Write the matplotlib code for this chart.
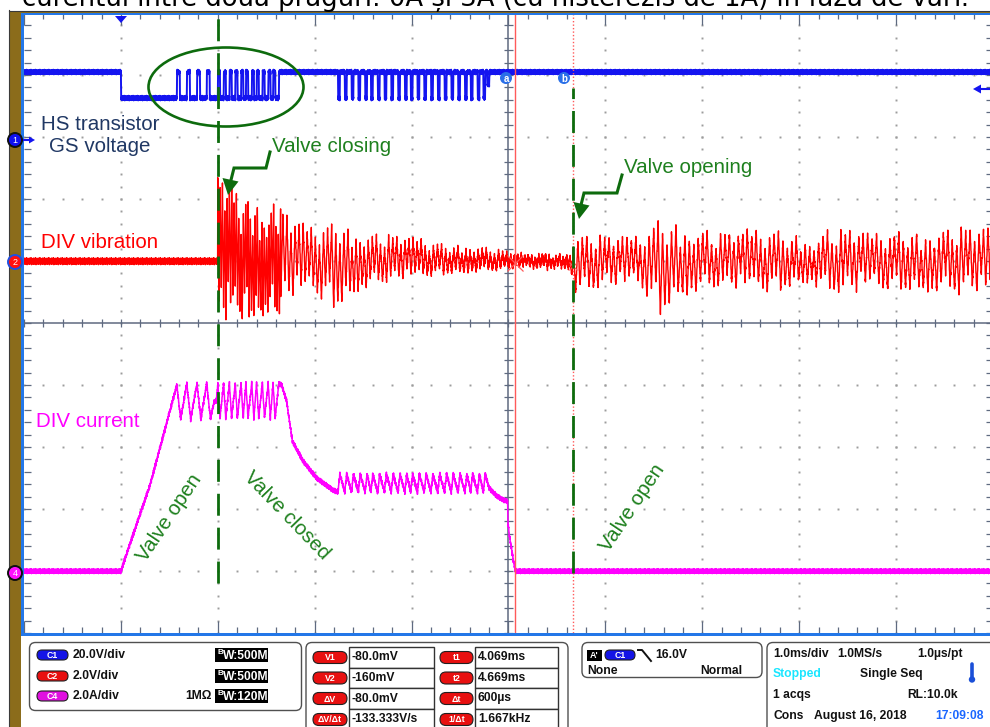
import numpy as np
import matplotlib
matplotlib.use("Agg")
import matplotlib.pyplot as plt
from matplotlib.patches import Ellipse, FancyBboxPatch, Rectangle, Circle, Polygon
from matplotlib.collections import LineCollection

W, H = 990, 727

# ---------------- acquisition settings ----------------
TIME_RANGE = (-1.0, 9.0)           # ms  (1.0 ms/div, 10 divisions)
DIVS = 5                           # +/- vertical divisions
C1_SCALE, C1_OFFSET = 20.0, 3.0    # V/div, position in div
C2_SCALE, C2_OFFSET = 2.0, 1.0     # V/div
C4_SCALE, C4_OFFSET = 2.0, -4.0    # A/div
CURSOR_T = [4.069, 4.669]          # ms
CURSOR_V = [-0.080, -0.160]        # V (on C2)
VALVE_CLOSING_T = 1.0              # ms
VALVE_OPENING_T = 4.665            # ms

# ---------------- C1: HS transistor gate-source voltage ----------------
gs_high, gs_low = 21.0, 12.6                 # V
gs_turn_on = 0.0                             # ms
gs_peak_off = [0.577, 0.68, 0.785, 0.885]    # short off pulses in the peak phase
gs_dense_off = [1.00, 1.06, 1.12, 1.18, 1.24, 1.29, 1.35, 1.40, 1.46, 1.52, 1.57, 1.63]
gs_hold_on = [2.24, 2.31, 2.38, 2.45, 2.52, 2.58, 2.65, 2.72, 2.79, 2.86, 2.93, 2.99,
              3.06, 3.13, 3.20, 3.27, 3.34, 3.41, 3.48, 3.55, 3.61, 3.68, 3.74]

# ---------------- C4: DIV current ----------------
cur_ramp_t = [0.0, 0.124, 0.30, 0.577]
cur_ramp_a = [0.0, 1.16, 2.77, 6.0]
cur_peak_hi, cur_peak_lo = 6.05, 4.9         # A
cur_gap_t = [0.96, 0.985]
cur_gap_a = [5.45, 5.5]
cur_decay_t = [1.66, 1.71, 1.77, 1.88, 2.02, 2.19]
cur_decay_a = [6.0, 5.48, 4.19, 3.55, 3.0, 2.61]
cur_hold_hi, cur_hold_lo = 3.13, 2.55        # A
cur_off_t = [3.80, 3.88, 3.95, 3.99, 3.995, 4.01, 4.03, 4.05, 4.07, 4.08]
cur_off_a = [2.68, 2.42, 2.29, 2.26, 1.55, 1.13, 0.74, 0.35, 0.03, 0.0]

# ---------------- C2: DIV vibration (envelope of the oscillation) ----------------
vib_t = [1.00, 1.07, 1.18, 1.33, 1.54, 1.59, 1.74, 1.95, 2.21, 2.46, 2.88, 3.11, 3.39,
         3.60, 3.91, 4.06, 4.64, 4.67, 4.75, 4.94, 5.35, 5.56, 5.76, 6.18, 6.69, 7.10,
         7.31, 7.62, 8.13, 8.65, 9.00]
vib_up = [2.58, 2.58, 2.26, 2.00, 1.61, 1.87, 1.35, 1.03, 1.19, 0.84, 0.71, 0.65, 0.42,
          0.45, 0.26, 0.19, 0.19, 0.84, 0.80, 0.77, 0.77, 1.35, 1.13, 0.84, 1.03, 0.65,
          0.97, 0.90, 0.90, 1.03, 1.03]
vib_dn = [1.87, 1.94, 1.87, 1.77, 1.68, 1.94, 1.16, 0.97, 1.45, 0.90, 0.55, 0.48, 0.35,
          0.32, 0.26, 0.19, 0.19, 0.90, 1.29, 0.84, 0.77, 1.77, 1.16, 0.84, 1.00, 0.65,
          1.06, 0.97, 0.90, 1.06, 1.06]
vib_segments = [(1.00, 1.65, 0.012), (1.65, 4.06, 0.021), (4.06, 4.67, 0.018), (4.67, 9.0, 0.023)]
vib_swing = [1.0, 0.66, 0.88, 0.40, 0.95, 0.74, 0.60, 0.92, 0.80, 0.35, 0.90, 0.68, 0.98,
             0.58, 0.78, 0.42, 0.94, 0.70, 0.62, 0.86, 0.38, 0.97, 0.72, 0.57, 0.84, 0.45, 0.93]

# trace fuzz (display noise) texture
FUZZ = np.array([0.1, -0.6, 0.35, -0.2, 0.8, -0.9, 0.05, 0.45, -0.35, 0.6, -0.75, 0.2,
                 -0.05, 0.9, -0.5, 0.3, -1.0, 0.55, -0.25, 0.7, -0.45, 0.15, -0.8])

BROWN = '#8b6c1b'
FRAME_BLUE = '#2377e8'
GRID_GRAY = '#9c9c9c'
AXIS_GRAY = '#5f6a80'
GREEN_LINE = '#0d6b0d'
GREEN_TEXT = '#1e801e'
C1_COLOR = '#1414f0'
C2_COLOR = '#ff0000'
C4_COLOR = '#ff00ff'


def sampled(vert_t, vert_v, fuzz_amp):
    grid = np.arange(TIME_RANGE[0], TIME_RANGE[1] + 1e-9, 0.002)
    tt = np.union1d(grid, np.asarray(vert_t))
    vv = np.interp(tt, vert_t, vert_v)
    vv = vv + fuzz_amp * np.resize(FUZZ, tt.size)
    return tt, vv


# ---------- build C1 vertices ----------
c1_t, c1_v = [TIME_RANGE[0], gs_turn_on], [gs_high, gs_high]
c1_t += [gs_turn_on + 0.003]; c1_v += [gs_low]
for s in gs_peak_off:
    c1_t += [s, s + 0.003, s + 0.030, s + 0.033]
    c1_v += [gs_low, gs_high, gs_high, gs_low]
for i, s in enumerate(gs_dense_off):
    if i < len(gs_dense_off) - 1:
        c1_t += [s, s + 0.003, s + 0.022, s + 0.025]
        c1_v += [gs_low, gs_high, gs_high, gs_low]
    else:
        c1_t += [s, s + 0.003]
        c1_v += [gs_low, gs_high]
for d in gs_hold_on:
    c1_t += [d, d + 0.003, d + 0.018, d + 0.021]
    c1_v += [gs_high, gs_low, gs_low, gs_high]
c1_t += [3.78, 3.783, 3.80, 3.803, TIME_RANGE[1]]
c1_v += [gs_high, 17.0, 17.0, gs_high, gs_high]

# ---------- build C4 vertices ----------
c4_t = [TIME_RANGE[0]] + cur_ramp_t[:-1]
c4_a = [0.0] + cur_ramp_a[:-1]
for s in gs_peak_off:
    c4_t += [s, s + 0.04]
    c4_a += [cur_peak_hi if s != gs_peak_off[0] else cur_ramp_a[-1], cur_peak_lo]
c4_t += cur_gap_t; c4_a += cur_gap_a
for s in gs_dense_off:
    c4_t += [s, s + 0.022]
    c4_a += [cur_peak_hi, cur_peak_lo + 0.05]
c4_t[-1] = gs_dense_off[-1] + 0.005; c4_a[-1] = cur_peak_hi
c4_t += cur_decay_t; c4_a += cur_decay_a
for d in gs_hold_on:
    c4_t += [d, d + 0.02]
    c4_a += [cur_hold_lo, cur_hold_hi]
c4_t += cur_off_t + [TIME_RANGE[1]]
c4_a += cur_off_a + [0.0]

# ---------- build C2 vertices ----------
c2_t, c2_v = [TIME_RANGE[0], vib_segments[0][0] - 0.002], [0.0, 0.0]
k = 0
for t0, t1, hp in vib_segments:
    t = t0
    while t < t1 - 1e-9:
        up = (k % 2 == 0)
        env = np.interp(t, vib_t, vib_up if up else vib_dn)
        c2_t.append(t)
        c2_v.append((1 if up else -1) * env * vib_swing[k % len(vib_swing)])
        t += hp
        k += 1
c2_t.append(TIME_RANGE[1]); c2_v.append(0.0)

# ================= figure =================
fig = plt.figure(figsize=(W / 100, H / 100), dpi=100)
fig.patch.set_facecolor('white')

ax = fig.add_axes([24 / W, 1 - 633 / H, 969 / W, 620 / H])
ax.set_xlim(*TIME_RANGE)
ax.set_ylim(-DIVS, DIVS)
ax.axis('off')

# --- graticule ---
minor_y = np.arange(-DIVS, DIVS + 1e-9, 0.2)
minor_x = np.arange(TIME_RANGE[0], TIME_RANGE[1] + 1e-9, 0.2)
dx, dy = [], []
for xm in range(0, 9):
    if xm == 4:
        continue
    dx += [xm] * len(minor_y); dy += list(minor_y)
for ym in range(-4, 5):
    if ym == 0:
        continue
    dx += list(minor_x); dy += [ym] * len(minor_x)
ax.plot(dx, dy, ls='none', marker='s', ms=1.4, mew=0, color=GRID_GRAY, zorder=1)

px_t = 1 / 96.9     # ms per pixel
px_d = 1 / 62.0     # div per pixel
segs = []
ax.axvline(4, color=AXIS_GRAY, lw=1.1, zorder=1)
ax.axhline(0, color=AXIS_GRAY, lw=1.1, zorder=1)
for y in minor_y:
    segs.append([(4 - 4 * px_t, y), (4 + 4 * px_t, y)])
    segs.append([(-1, y), (-1 + 7 * px_t, y)])
    segs.append([(9 - 7 * px_t, y), (9, y)])
for x in minor_x:
    segs.append([(x, -4 * px_d), (x, 4 * px_d)])
    major = abs(x - round(x)) < 1e-6
    L = (12 if major else 6) * px_d
    segs.append([(x, -5), (x, -5 + L)])
    segs.append([(x, 5), (x, 5 - L)])
ax.add_collection(LineCollection(segs, colors=AXIS_GRAY, linewidths=0.9, zorder=1))


def channel_axes(scale, offset):
    a = ax.twinx()
    a.set_xlim(*TIME_RANGE)
    a.set_ylim((-DIVS - offset) * scale, (DIVS - offset) * scale)
    a.axis('off')
    return a


ax1 = channel_axes(C1_SCALE, C1_OFFSET)
ax2 = channel_axes(C2_SCALE, C2_OFFSET)
ax4 = channel_axes(C4_SCALE, C4_OFFSET)

t1, v1 = sampled(c1_t, c1_v, 0.8)
ax1.plot(t1, v1, color=C1_COLOR, lw=1.4)
t2, v2 = sampled(c2_t, c2_v, 0.12)
ax2.plot(t2, v2, color=C2_COLOR, lw=1.0)
t4, v4 = sampled(c4_t, c4_a, 0.085)
ax4.plot(t4, v4, color=C4_COLOR, lw=1.1)

# cursors
ax4.axvline(CURSOR_T[0], color='#ff5a5a', lw=1.0, zorder=3)
ax4.axvline(CURSOR_T[1], color='#ff5a5a', lw=1.0, dashes=(1, 1.5), zorder=3)
ax2.plot(CURSOR_T[0], CURSOR_V[0], marker='x', ms=12, mew=0.9, color='#ff5a5a')
ax2.plot(CURSOR_T[1], CURSOR_V[1], marker='x', ms=6, mew=0.9, color='#ff5a5a')

# valve event markers
ax4.axvline(VALVE_CLOSING_T, ymin=0.081, ymax=0.997, color=GREEN_LINE, lw=2.0,
            dashes=(7.9, 4.3), zorder=5)
ax4.axvline(VALVE_OPENING_T, ymin=0.097, ymax=0.879, color=GREEN_LINE, lw=2.0,
            dashes=(7.9, 4.3), zorder=5)

# ================= overlay (pixel coordinates) =================
ov = fig.add_axes([0, 0, 1, 1])
ov.set_xlim(0, W)
ov.set_ylim(H, 0)
ov.axis('off')

# instrument frame
ov.add_patch(Rectangle((9, 11), 11.5, H - 11, fc=BROWN, ec='none'))
ov.add_patch(Rectangle((9, 11), W - 9, 2, fc=BROWN, ec='none'))
ov.plot([8.5, 8.5], [10, H], color='#3a3a3a', lw=0.8)
ov.plot([8.5, W], [10.5, 10.5], color='#3a3a3a', lw=0.8)
ov.add_patch(Rectangle((20.5, 12.5), 3, 623, fc=FRAME_BLUE, ec='none'))
ov.add_patch(Rectangle((20.5, 12.5), W - 20, 2.3, fc=FRAME_BLUE, ec='none'))
ov.add_patch(Rectangle((20.5, 632.5), W - 20, 3, fc=FRAME_BLUE, ec='none'))

# heading text of the page (its upper half lies above the page edge)
head = ov.text(22, 6, "curentul între două praguri: 0A și 3A (cu histerezis de 1A) în faza de vârf.",
               family='DejaVu Sans', fontsize=15, va='baseline', ha='left', color='black')
fig.canvas.draw()
bw = head.get_window_extent().width
head.set_fontsize(15 * 946 / bw)

# trigger marker and level arrow
ov.add_patch(Polygon([(115, 16), (127, 16), (121, 23)], closed=True, fc=C1_COLOR, ec='none'))
ov.add_patch(Polygon([(973, 89), (981, 84.5), (981, 93.5)], closed=True, fc=C1_COLOR, ec='none'))
ov.plot([980, 990], [89, 89], color=C1_COLOR, lw=1.5)

# channel ground markers
for cy, fc, ec, lab in [(140, '#1010f0', '#101010', '1'), (262, '#ff1010', '#2050e0', '2'),
                        (573, '#ff10ff', '#101010', '4')]:
    ov.add_patch(Circle((15, cy), 7, fc=fc, ec=ec, lw=1.4, zorder=6))
    ov.text(15, cy + 0.5, lab, color='white', fontsize=6.5, ha='center', va='center',
            family='Liberation Sans', zorder=7)
ov.plot([23, 30], [140, 140], color=C1_COLOR, lw=1.5)
ov.add_patch(Polygon([(35, 140), (29, 136.5), (29, 143.5)], closed=True, fc=C1_COLOR, ec='none'))

# cursor tags
for cx, lab in [(506, 'a'), (564, 'b')]:
    ov.add_patch(Circle((cx, 78), 6, fc='#2a6fe8', ec='none', zorder=6))
    ov.text(cx, 78.5, lab, color='white', fontsize=7, ha='center', va='center',
            family='Liberation Sans', weight='bold', zorder=7)

# channel labels
LBL = dict(family='Liberation Sans', fontsize=14.8)
ov.text(100, 130, "HS transistor", color='#203864', ha='center', va='baseline', **LBL)
ov.text(100, 152, "GS voltage", color='#203864', ha='center', va='baseline', **LBL)
ov.text(41, 248, "DIV vibration", color=C2_COLOR, ha='left', va='baseline', **LBL)
ov.text(36, 427, "DIV current", color=C4_COLOR, ha='left', va='baseline', **LBL)

# annotations
ov.add_patch(Ellipse((226, 87), 155, 79, fill=False, ec=GREEN_LINE, lw=1.9, zorder=5))
ov.text(272, 152, "Valve closing", color=GREEN_TEXT, ha='left', va='baseline', **LBL)
ov.text(624, 173, "Valve opening", color=GREEN_TEXT, ha='left', va='baseline', **LBL)
ov.plot([270, 266, 234, 231], [152, 168, 168, 180], color=GREEN_LINE, lw=2.2,
        solid_joinstyle='miter', zorder=5)
ov.add_patch(Polygon([(228, 195), (222.5, 178), (238.5, 181.5)], closed=True, fc=GREEN_LINE, ec='none', zorder=5))
ov.plot([622, 617, 584, 581], [175, 193, 193, 205], color=GREEN_LINE, lw=2.2,
        solid_joinstyle='miter', zorder=5)
ov.add_patch(Polygon([(579, 219), (573.5, 202), (589.5, 205.5)], closed=True, fc=GREEN_LINE, ec='none', zorder=5))
ov.text(169, 518, "Valve open", color=GREEN_TEXT, rotation=56, rotation_mode='anchor',
        ha='center', va='center', **LBL)
ov.text(287, 515, "Valve closed", color=GREEN_TEXT, rotation=-46, rotation_mode='anchor',
        ha='center', va='center', **LBL)
ov.text(632, 508, "Valve open", color=GREEN_TEXT, rotation=56, rotation_mode='anchor',
        ha='center', va='center', **LBL)

# ================= readout panel =================
PANEL_FONT = dict(family='Liberation Sans', weight='bold', fontsize=8.7)
INK = '#111111'


def ptext(x, y, s, ha='left', color=INK):
    ov.text(x, y, s, ha=ha, va='center', color=color, **PANEL_FONT)


def rbox(x, y, w, h, r=6):
    ov.add_patch(FancyBboxPatch((x, y), w, h, boxstyle=f"round,pad=0,rounding_size={r}",
                                fc='white', ec='#505050', lw=1.0))


def pill(x0, x1, cy, color, label, h=11):
    ov.add_patch(FancyBboxPatch((x0, cy - h / 2), x1 - x0, h,
                                boxstyle=f"round,pad=0,rounding_size={h / 2}",
                                fc=color, ec='#202020', lw=0.8))
    ov.text((x0 + x1) / 2, cy + 0.5, label, color='white', ha='center', va='center',
            family='Liberation Sans', weight='bold', fontsize=6.3)


def bw_tag(cy, val):
    ov.add_patch(Rectangle((215, cy - 7), 53, 14, fc='black', ec='none'))
    ov.text(218, cy - 2.5, "B", color='white', ha='left', va='center',
            family='Liberation Sans', weight='bold', fontsize=5.8)
    ptext(223, cy + 1, "W:" + val, color='white')


rbox(29.5, 642.5, 272, 68)
rbox(306, 642.5, 262, 100)
rbox(582, 642.5, 180, 35)
rbox(767, 642.5, 240, 100)

ch_rows = [655, 676, 696]
for cy, col, lab, txt, bwv in zip(ch_rows, ['#1414e6', '#e81010', '#e010e0'], ['C1', 'C2', 'C4'],
                                  [f"{C1_SCALE:.1f}V/div", f"{C2_SCALE:.1f}V/div", f"{C4_SCALE:.1f}A/div"],
                                  ['500M', '500M', '120M']):
    pill(37, 68, cy, col, lab, h=10)
    ptext(73, cy, txt)
    bw_tag(cy, bwv)
ptext(185, ch_rows[2], "1MΩ")

dt = CURSOR_T[1] - CURSOR_T[0]
dv = CURSOR_V[1] - CURSOR_V[0]
v_vals = [f"{CURSOR_V[0] * 1000:.1f}mV", f"{CURSOR_V[1] * 1000:.0f}mV", f"{dv * 1000:.1f}mV",
          f"{dv / (dt / 1000):.3f}V/s"]
t_vals = [f"{CURSOR_T[0]:.3f}ms", f"{CURSOR_T[1]:.3f}ms", f"{dt * 1000:.0f}µs", f"{1 / dt:.3f}kHz"]
row_edges = [647, 668, 688, 709, 730]
for i, (vl, vv, tl, tv) in enumerate(zip(["V1", "V2", "ΔV", "ΔV/Δt"], v_vals,
                                         ["t1", "t2", "Δt", "1/Δt"], t_vals)):
    y0, y1 = row_edges[i], row_edges[i + 1]
    cy = (y0 + y1) / 2
    pill(313, 347, cy, '#e81010', vl, h=12)
    pill(440, 473, cy, '#e81010', tl, h=12)
    ov.add_patch(Rectangle((349, y0), 85, y1 - y0, fc='white', ec='#333333', lw=1.0))
    ov.add_patch(Rectangle((475, y0), 83, y1 - y0, fc='white', ec='#333333', lw=1.0))
    ptext(352, cy, vv)
    ptext(478, cy, tv)

# trigger box
ov.add_patch(Rectangle((587, 650), 15, 11, fc='black', ec='none'))
ov.text(594.5, 655.5, "A'", color='white', ha='center', va='center',
        family='Liberation Sans', weight='bold', fontsize=6.5)
pill(605, 635, 655, '#1414e6', 'C1', h=10)
ov.plot([638, 642, 651], [650, 650, 661], color=INK, lw=1.4)
ptext(655, 655, "16.0V")
ptext(587, 671, "None")
ptext(742, 671, "Normal", ha='right')

# timebase / acquisition box
ptext(773, 654, "1.0ms/div")
ptext(837, 654, "1.0MS/s")
ptext(963, 654, "1.0µs/pt", ha='right')
ptext(773, 674, "Stopped", color='#19e6ff')
ptext(860, 674, "Single Seq")
ov.plot([972, 972], [664, 677], color='#1a4fd8', lw=2.6, solid_capstyle='round')
ov.add_patch(Circle((972, 679.5), 3.2, fc='#1a4fd8', ec='none'))
ptext(773, 695, "1 acqs")
ptext(958, 695, "RL:10.0k", ha='right')
ptext(773, 716, "Cons")
ptext(814, 716, "August 16, 2018")
ptext(935, 716, "17:09:08", color='#1a66ff')

fig.savefig('out.png', dpi=100, facecolor='white')
